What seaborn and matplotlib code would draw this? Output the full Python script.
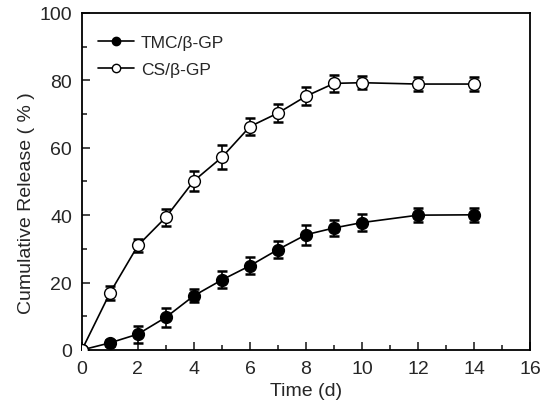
import matplotlib
matplotlib.use("Agg")
import matplotlib.pyplot as plt
import seaborn as sns
import pandas as pd
import numpy as np
from matplotlib.ticker import MultipleLocator

time_d = [0, 1, 2, 3, 4, 5, 6, 7, 8, 9, 10, 12, 14]
tmc_release = [0, 2.1, 4.7, 9.7, 16.1, 20.8, 25.0, 29.8, 34.2, 36.2, 37.8, 40.0, 40.1]
tmc_err = [0, 1.0, 2.5, 2.8, 2.0, 2.5, 2.5, 2.5, 3.0, 2.5, 2.5, 2.0, 2.0]
cs_release = [0, 16.9, 31.0, 39.4, 50.2, 57.2, 66.3, 70.3, 75.3, 79.1, 79.3, 78.9, 78.9]
cs_err = [0, 2.0, 2.0, 2.5, 3.0, 3.5, 2.5, 2.7, 2.7, 2.5, 2.0, 2.0, 2.0]
series_names = ["TMC/\u03b2-GP", "CS/\u03b2-GP"]

sns.set_style("ticks")
plt.rcParams['font.family'] = ['Liberation Sans', 'DejaVu Sans']

df = pd.DataFrame({
    "Time": time_d * 2,
    "Release": tmc_release + cs_release,
    "Err": tmc_err + cs_err,
    "Series": [series_names[0]] * len(time_d) + [series_names[1]] * len(time_d),
})

fig = plt.figure(figsize=(5.46, 4.10), dpi=100)
ax = fig.add_axes([0.150, 0.144, 0.821, 0.822])

styles = {series_names[0]: "black", series_names[1]: "white"}
for name in series_names:
    sub = df[df["Series"] == name]
    ax.errorbar(sub["Time"], sub["Release"], yerr=sub["Err"], fmt="none",
                ecolor="black", elinewidth=1.2, capsize=3.5, capthick=1.8, zorder=2)
    sns.lineplot(data=sub, x="Time", y="Release", ax=ax, color="black",
                 linewidth=1.2, marker="o", markersize=8.5,
                 markerfacecolor=styles[name], markeredgecolor="black",
                 markeredgewidth=1.0, label=name, zorder=3)

ax.set_xlim(0, 16)
ax.set_ylim(0, 100)
ax.xaxis.set_major_locator(MultipleLocator(2))
ax.xaxis.set_minor_locator(MultipleLocator(1))
ax.yaxis.set_major_locator(MultipleLocator(20))
ax.yaxis.set_minor_locator(MultipleLocator(10))
ax.tick_params(which="both", direction="in", top=False, right=False, width=1.2)
ax.tick_params(which="major", length=6, labelsize=14, pad=7)
ax.tick_params(which="minor", length=3.5)
for s in ax.spines.values():
    s.set_linewidth(1.3)
    s.set_color("black")

ax.set_xlabel("Time (d)", fontsize=14, labelpad=4)
ax.set_ylabel("Cumulative Release ( % )", fontsize=14)
ax.yaxis.set_label_coords(-0.105, 0.44)

leg = ax.legend(loc="upper left", frameon=False, fontsize=12.5,
                bbox_to_anchor=(0.0, 0.98), handlelength=2.1, handletextpad=0.4,
                labelspacing=0.65)
for h in leg.legend_handles:
    h.set_markersize(6)

fig.savefig("out.png", dpi=100)
